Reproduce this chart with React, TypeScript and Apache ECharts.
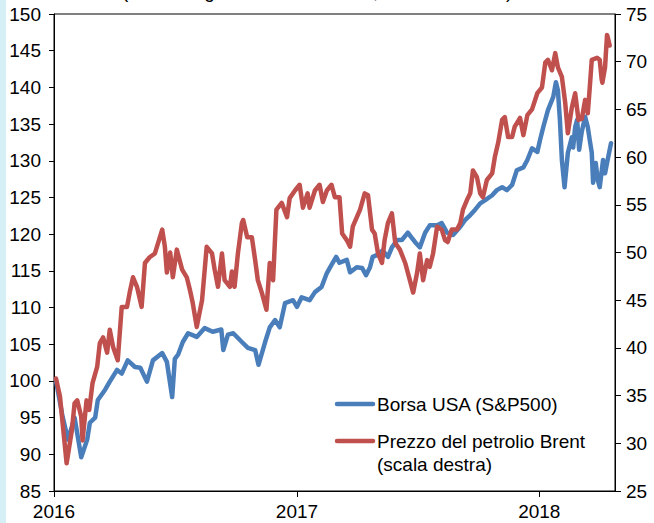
import React, { useEffect, useRef } from "react";
import * as echarts from "echarts";

const xTickYears = ["2016-01-01", "2017-01-01", "2018-01-01"];
const xMinDate = "2016-01-01";
const xMaxDate = "2018-04-25";

const sp500Dates = [
  "2016-01-04", "2016-01-14", "2016-01-22", "2016-02-01", "2016-02-11", "2016-02-20", "2016-02-24", "2016-03-03",
  "2016-03-07", "2016-03-18", "2016-03-25", "2016-04-05", "2016-04-12", "2016-04-21", "2016-05-02", "2016-05-10",
  "2016-05-20", "2016-05-29", "2016-06-12", "2016-06-19", "2016-06-27", "2016-07-01", "2016-07-06", "2016-07-13",
  "2016-07-21", "2016-08-03", "2016-08-15", "2016-08-27", "2016-09-09", "2016-09-12", "2016-09-19", "2016-09-27",
  "2016-10-10", "2016-10-19", "2016-10-30", "2016-11-04", "2016-11-14", "2016-11-21", "2016-11-29", "2016-12-06",
  "2016-12-14", "2016-12-26", "2017-01-01", "2017-01-08", "2017-01-20", "2017-01-28", "2017-02-07", "2017-02-15",
  "2017-02-22", "2017-03-01", "2017-03-06", "2017-03-17", "2017-03-22", "2017-04-01", "2017-04-09", "2017-04-15",
  "2017-04-21", "2017-04-25", "2017-05-03", "2017-05-10", "2017-05-18", "2017-05-24", "2017-06-01", "2017-06-08",
  "2017-06-17", "2017-06-22", "2017-06-28", "2017-07-05", "2017-07-13", "2017-07-20", "2017-07-31", "2017-08-07",
  "2017-08-15", "2017-08-24", "2017-09-04", "2017-09-11", "2017-09-19", "2017-09-26", "2017-10-04", "2017-10-11",
  "2017-10-22", "2017-10-29", "2017-11-06", "2017-11-13", "2017-11-21", "2017-11-28", "2017-12-08", "2017-12-14",
  "2017-12-21", "2017-12-29", "2018-01-02", "2018-01-07", "2018-01-14", "2018-01-22", "2018-01-26", "2018-01-29",
  "2018-02-01", "2018-02-04", "2018-02-08", "2018-02-13", "2018-02-19", "2018-02-21", "2018-02-24", "2018-02-27",
  "2018-03-02", "2018-03-06", "2018-03-11", "2018-03-15", "2018-03-18", "2018-03-21", "2018-03-23", "2018-03-27",
  "2018-03-30", "2018-04-02", "2018-04-07", "2018-04-10", "2018-04-13", "2018-04-19",
];
const sp500Values = [
  100, 95.1, 92, 95, 89.6, 92, 94.3, 95,
  97.4, 98.8, 99.9, 101.5, 101, 102.8, 101.9, 101.8,
  99.9, 102.8, 103.8, 102.6, 97.8, 103, 103.6, 105.3,
  106.5, 106, 107.2, 106.7, 107, 104.2, 106.3, 106.5,
  105.3, 104.5, 104.2, 102.2, 105.3, 107.3, 108.3, 107.3,
  110.6, 111, 110.1, 111.4, 111, 112.1, 112.8, 114.7,
  115.8, 116.9, 116.1, 116.5, 114.8, 115.5, 115.4, 114.4,
  115.5, 116.9, 117.2, 117.8, 116.9, 118.2, 119.2, 119.2,
  120.2, 119.6, 118.9, 118.2, 120.2, 121.2, 121.2, 121.5,
  120.2, 119.9, 121, 121.9, 122.6, 123.3, 124.2, 124.6,
  125.3, 126, 126.4, 126, 126.7, 128.7, 129.1, 130.1,
  131.7, 131.2, 132.8, 134.6, 136.9, 138.7, 140.7, 139.6,
  135.6, 130.1, 126.4, 131.1, 133.2, 131.8, 134.6, 135.6,
  131.5, 134, 136, 134.6, 132.8, 131.1, 127, 129.7,
  127.4, 126.4, 130.1, 128.3, 129.7, 132.4,
];

const brentDates = [
  "2016-01-04", "2016-01-10", "2016-01-17", "2016-01-20", "2016-01-28", "2016-02-01", "2016-02-05", "2016-02-11",
  "2016-02-13", "2016-02-19", "2016-02-23", "2016-02-28", "2016-03-06", "2016-03-10", "2016-03-15", "2016-03-21",
  "2016-03-25", "2016-03-30", "2016-04-06", "2016-04-12", "2016-04-20", "2016-04-24", "2016-04-29", "2016-05-05",
  "2016-05-12", "2016-05-17", "2016-05-24", "2016-06-01", "2016-06-12", "2016-06-16", "2016-06-19", "2016-06-24",
  "2016-06-28", "2016-07-04", "2016-07-12", "2016-07-19", "2016-07-24", "2016-07-28", "2016-08-03", "2016-08-11",
  "2016-08-18", "2016-08-26", "2016-08-30", "2016-09-04", "2016-09-10", "2016-09-14", "2016-09-22", "2016-09-25",
  "2016-09-29", "2016-10-04", "2016-10-10", "2016-10-12", "2016-10-18", "2016-10-25", "2016-10-30", "2016-11-03",
  "2016-11-09", "2016-11-16", "2016-11-21", "2016-11-26", "2016-12-01", "2016-12-09", "2016-12-17", "2016-12-21",
  "2016-12-29", "2017-01-05", "2017-01-10", "2017-01-17", "2017-01-20", "2017-01-28", "2017-02-04", "2017-02-09",
  "2017-02-15", "2017-02-22", "2017-02-27", "2017-03-06", "2017-03-10", "2017-03-17", "2017-03-22", "2017-03-26",
  "2017-04-06", "2017-04-13", "2017-04-18", "2017-04-24", "2017-04-28", "2017-05-03", "2017-05-09", "2017-05-13",
  "2017-05-18", "2017-05-24", "2017-05-29", "2017-06-05", "2017-06-13", "2017-06-20", "2017-06-25", "2017-07-01",
  "2017-07-05", "2017-07-10", "2017-07-16", "2017-07-20", "2017-07-25", "2017-07-31", "2017-08-07", "2017-08-12",
  "2017-08-16", "2017-08-22", "2017-08-30", "2017-09-04", "2017-09-08", "2017-09-14", "2017-09-19", "2017-09-23",
  "2017-09-29", "2017-10-04", "2017-10-08", "2017-10-14", "2017-10-22", "2017-10-26", "2017-10-31", "2017-11-06",
  "2017-11-10", "2017-11-15", "2017-11-21", "2017-11-25", "2017-12-03", "2017-12-08", "2017-12-14", "2017-12-21",
  "2017-12-29", "2018-01-05", "2018-01-10", "2018-01-14", "2018-01-20", "2018-01-25", "2018-01-29", "2018-02-04",
  "2018-02-09", "2018-02-13", "2018-02-19", "2018-02-24", "2018-03-01", "2018-03-06", "2018-03-11", "2018-03-15",
  "2018-03-18", "2018-03-21", "2018-03-29", "2018-04-02", "2018-04-05", "2018-04-06", "2018-04-10", "2018-04-13",
  "2018-04-14", "2018-04-17",
];
const brentValues = [
  36.8, 34.9, 30, 27.9, 31.4, 34.2, 34.5, 32.8,
  30.3, 34.5, 33.5, 36.3, 38, 40.5, 41.1, 39.5,
  41.9, 40.1, 38.7, 44.3, 44.3, 45.8, 47.4, 46.4,
  44.3, 48.9, 49.5, 49.9, 52.4, 50.6, 47.9, 50,
  47.4, 50.3, 48.2, 47.4, 46, 44.7, 42.2, 45,
  50.6, 49.9, 48.2, 46.4, 49.9, 47.1, 46.4, 48,
  46.4, 49.9, 53.1, 53.4, 51.6, 51.6, 49.2, 47.1,
  45.8, 44, 48.9, 47.1, 54.5, 55.2, 53.7, 55.7,
  56.5, 57.1, 54.7, 56.2, 54.7, 56.5, 57.1, 55.3,
  56.5, 57.1, 55.8, 55.8, 52, 51.3, 50.6, 52.7,
  54.5, 56.2, 56, 52.4, 52, 49.9, 48.9, 51.3,
  53.1, 54.1, 51, 50.3, 48.9, 47.1, 45.8, 47.9,
  49.9, 47.1, 49.2, 48.5, 49.9, 52.7, 52.4, 51.3,
  51.1, 52.4, 52.4, 53.1, 54.5, 55.5, 56.2, 58.6,
  57.9, 56.2, 55.8, 57.6, 58.3, 60, 61.5, 63.9,
  64.2, 62.1, 62.1, 63.2, 64.1, 62.3, 64.4, 65,
  66.7, 67.3, 69.9, 70.2, 69.1, 70.9, 69.4, 68.4,
  65.7, 62.5, 65.2, 66.7, 63.9, 64, 66, 64.6,
  67.3, 70.2, 70.4, 70.2, 68.1, 67.8, 69.4, 72.8,
  72.6, 71.7,
];

const leftTicks = { min: 85, max: 150, interval: 5 };
const rightTicks = { min: 25, max: 75, interval: 5 };

const seriesNames = ["Borsa USA (S&P500)", "Prezzo del petrolio Brent"];
const legendLines = [["Borsa USA (S&P500)"], ["Prezzo del petrolio Brent", "(scala destra)"]];
const titleText = "(indice: 4 gennaio 2016 = 100, dollari al barile)";

const BLUE = "#4a7ebb";
const RED = "#c0504d";
const FONT = "'Liberation Sans', Arial, sans-serif";
const FS = 19;

const toTs = (d: string) => Date.parse(d + "T00:00:00Z");

export default function App() {
  const ref = useRef<HTMLDivElement>(null);
  useEffect(() => {
    if (!ref.current) return;
    const chart = echarts.init(ref.current, undefined, { renderer: "svg" });
    const spData = sp500Dates.map((d, i) => [toTs(d), sp500Values[i]]);
    const brData = brentDates.map((d, i) => [toTs(d), brentValues[i]]);
    const tickTs = xTickYears.map(toTs);
    const axisLabelStyle = { color: "#000", fontSize: FS, fontFamily: FONT };
    const legendY = [404, 441];
    const legendColors = [BLUE, RED];
    const legendGraphics: any[] = [];
    legendLines.forEach((lines, i) => {
      legendGraphics.push({
        type: "line",
        shape: { x1: 337, y1: legendY[i], x2: 373, y2: legendY[i] },
        style: { stroke: legendColors[i], lineWidth: 4.5, lineCap: "round" },
      });
      lines.forEach((t, j) => {
        legendGraphics.push({
          type: "text",
          x: 377,
          y: legendY[i] + j * 23,
          style: { text: t, fill: "#000", font: `${FS}px ${FONT}`, textVerticalAlign: "middle", textAlign: "left" },
        });
      });
    });
    chart.setOption({
      animation: false,
      backgroundColor: "#fff",
      grid: { left: 54, right: 39, top: 14, bottom: 32, show: true, borderColor: "#000", borderWidth: 1 },
      xAxis: {
        type: "value",
        min: toTs(xMinDate),
        max: toTs(xMaxDate),
        axisLine: { show: true, lineStyle: { color: "#000", width: 1 } },
        axisTick: { show: true, length: 6, inside: false, customValues: tickTs, lineStyle: { color: "#000" } },
        axisLabel: {
          ...axisLabelStyle,
          margin: 11,
          customValues: tickTs,
          formatter: (v: number) => String(new Date(v).getUTCFullYear()),
        },
        splitLine: { show: false },
      },
      yAxis: [
        {
          type: "value",
          position: "left",
          ...leftTicks,
          axisLine: { show: true, lineStyle: { color: "#000", width: 1 } },
          axisTick: { show: true, length: 5, lineStyle: { color: "#000" } },
          axisLabel: { ...axisLabelStyle, margin: 13 },
          splitLine: { show: false },
        },
        {
          type: "value",
          position: "right",
          ...rightTicks,
          axisLine: { show: true, lineStyle: { color: "#000", width: 1 } },
          axisTick: { show: true, length: 6, lineStyle: { color: "#000" } },
          axisLabel: { ...axisLabelStyle, margin: 11 },
          splitLine: { show: false },
        },
      ],
      series: [
        {
          name: seriesNames[0],
          type: "line",
          yAxisIndex: 0,
          data: spData,
          showSymbol: false,
          lineStyle: { color: BLUE, width: 4.5, cap: "round", join: "round" },
          itemStyle: { color: BLUE },
        },
        {
          name: seriesNames[1],
          type: "line",
          yAxisIndex: 1,
          data: brData,
          showSymbol: false,
          lineStyle: { color: RED, width: 4.5, cap: "round", join: "round" },
          itemStyle: { color: RED },
        },
      ],
      graphic: [
        { type: "rect", shape: { x: 0, y: 0, width: 6, height: 523 }, style: { fill: "#d6eef6" }, silent: true },
        {
          type: "text",
          x: 122,
          y: -9,
          style: { text: titleText, fill: "#000", font: `${FS}px ${FONT}`, textVerticalAlign: "middle", textAlign: "left" },
        },
        ...legendGraphics,
      ],
    });
    return () => chart.dispose();
  }, []);
  return (
    <div
      ref={ref}
      style={{ position: "fixed", left: 0, top: 0, width: 654, height: 523, background: "#fff" }}
    />
  );
}
